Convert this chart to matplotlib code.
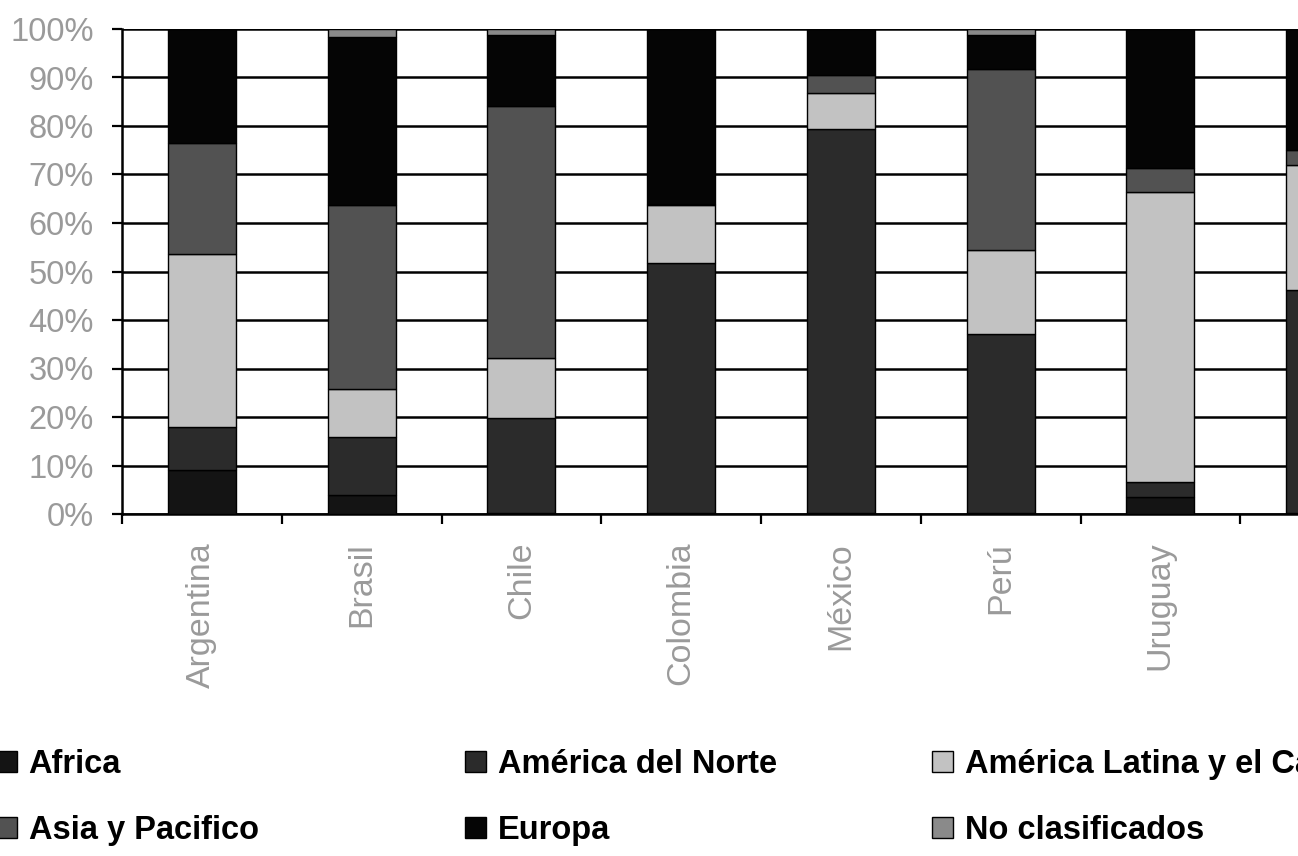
import matplotlib
matplotlib.use("Agg")
import numpy as np
from matplotlib import pyplot as plt

# data (percent of total, stacked bottom -> top)
paises = ["Argentina", "Brasil", "Chile", "Colombia", "México", "Perú", "Uruguay", "Venezuela"]
regiones = ["Africa", "América del Norte", "América Latina y el Caribe",
            "Asia y Pacifico", "Europa", "No clasificados"]

africa = [9.1, 3.9, 0.3, 0.3, 0.2, 0.3, 3.5, 0.2]
am_norte = [8.8, 12.0, 19.5, 51.5, 79.2, 36.8, 3.1, 46.0]
am_latina = [35.7, 9.9, 12.4, 11.9, 7.5, 17.4, 59.8, 25.8]
asia = [22.9, 37.9, 52.0, 0.3, 3.7, 37.3, 5.0, 3.1]
europa = [23.5, 34.7, 14.6, 36.0, 9.4, 7.0, 28.6, 24.9]
no_clasif = [0.0, 1.6, 1.2, 0.0, 0.0, 1.2, 0.0, 0.0]

series = [africa, am_norte, am_latina, asia, europa, no_clasif]
colores = ["#141414", "#2b2b2b", "#c2c2c2", "#525252", "#050505", "#8a8a8a"]

plt.rcParams["font.family"] = ["Liberation Sans", "DejaVu Sans"]

fig = plt.figure(figsize=(12.98, 8.56), dpi=100)
ax = fig.add_axes([122 / 1298, 342 / 856, 1278 / 1298, 485 / 856])

x = np.arange(len(paises)) + 0.5
datos = np.array(series, dtype=float)
datos = datos / datos.sum(axis=0) * 100
base = np.zeros(len(paises))
barras = []
for vals, col, nombre in zip(datos, colores, regiones):
    b = ax.bar(x, vals, 0.425, bottom=base, color=col, edgecolor="black",
               linewidth=1.0, label=nombre, zorder=3)
    barras.append(b)
    base += vals

ax.set_xlim(0, len(paises))
ax.set_ylim(0, 100)
ax.set_yticks(np.arange(0, 101, 10))
ax.set_yticklabels([f"{v}%" for v in range(0, 101, 10)])
ax.yaxis.grid(True, color="black", linewidth=1.8)
ax.set_axisbelow(True)

ax.set_xticks(x)
ax.set_xticklabels(paises, rotation=90, va="top", ha="center")
ax.set_xticks(np.arange(0, len(paises) + 1), minor=True)
ax.tick_params(axis="x", which="major", length=0, pad=20, labelsize=24.5,
               labelcolor="#9a9a9a")
ax.tick_params(axis="x", which="minor", length=7.5, width=1.6, direction="out")
ax.tick_params(axis="y", length=7.5, width=1.6, direction="out", pad=13,
               labelsize=23.5, labelcolor="#9a9a9a")

for s in ["top", "right"]:
    ax.spines[s].set_visible(False)
ax.spines["left"].set_linewidth(1.8)
ax.spines["bottom"].set_linewidth(1.8)

# legend in three loose columns under the chart
columnas = [(0, 3, -4), (1, 4, 465), (2, 5, 932)]
for i, j, xpos in columnas:
    fig.legend([barras[i], barras[j]], [regiones[i], regiones[j]],
               loc="upper left", bbox_to_anchor=(xpos / 1298, 1 - 749 / 856),
               frameon=False, borderpad=0, borderaxespad=0,
               handlelength=0.65, handleheight=0.65, handletextpad=0.35,
               labelspacing=1.07, prop={"weight": "bold", "size": 23.5})

fig.savefig("out.png", dpi=100)
